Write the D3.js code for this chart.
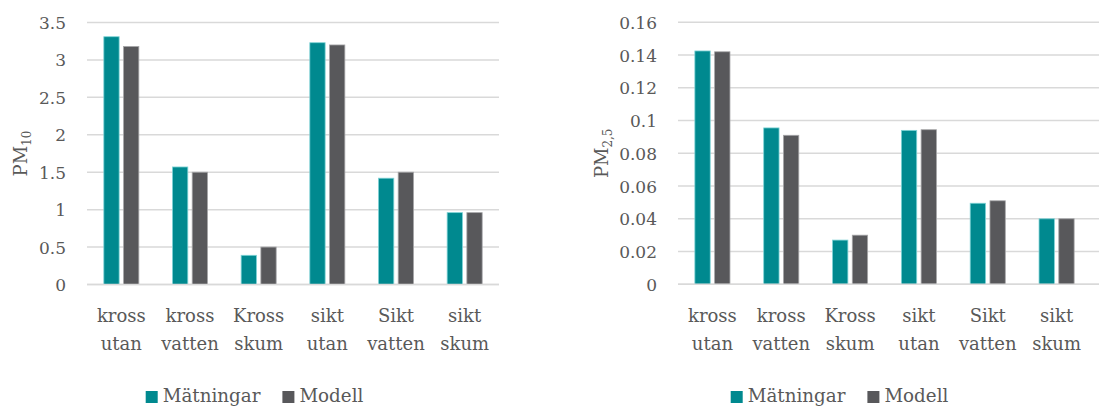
<!DOCTYPE html>
<html>
<head>
<meta charset="utf-8">
<script src="https://cdn.jsdelivr.net/npm/d3@7"></script>
<style>
  html, body { margin: 0; padding: 0; background: #fff; }
  svg { display: block; }
  text { font-family: "DejaVu Serif", "Liberation Serif", serif; fill: #595959; }
</style>
</head>
<body>
<svg id="chart" width="1099" height="407"></svg>
<script>
// ---- Data ----
const categories = [["kross", "utan"], ["kross", "vatten"], ["Kross", "skum"], ["sikt", "utan"], ["Sikt", "vatten"], ["sikt", "skum"]];
const seriesNames = ["Mätningar", "Modell"];
const pm10Matningar = [3.31, 1.57, 0.39, 3.23, 1.42, 0.96];
const pm10Modell    = [3.18, 1.50, 0.50, 3.20, 1.50, 0.96];
const pm25Matningar = [0.1425, 0.0955, 0.027, 0.094, 0.0495, 0.040];
const pm25Modell    = [0.142, 0.091, 0.030, 0.0944, 0.051, 0.040];
const pm10Ticks = [0, 0.5, 1, 1.5, 2, 2.5, 3, 3.5];
const pm25Ticks = [0, 0.02, 0.04, 0.06, 0.08, 0.1, 0.12, 0.14, 0.16];

const colors = ["#00898F", "#58585B"];
const strokeColors = ["#7FD3D6", "#A6A6A8"];
const FONT = '"DejaVu Serif", "Liberation Serif", serif';

const svg = d3.select("#chart");

function drawChart(cfg) {
  const g = svg.append("g");
  const cats = categories.map((c, i) => i);
  const x0 = d3.scaleBand().domain(cats).range([cfg.x0, cfg.x1]).paddingInner(0.49).paddingOuter(0.245);
  const x1 = d3.scaleBand().domain([0, 1]).range([0, x0.bandwidth()]).paddingInner(0.223);
  const y = d3.scaleLinear().domain([0, cfg.max]).range([cfg.yBottom, cfg.yTop]);

  // gridlines
  g.selectAll("line.grid").data(cfg.ticks).enter().append("line")
    .attr("x1", cfg.x0).attr("x2", cfg.gridEnd)
    .attr("y1", d => y(d)).attr("y2", d => y(d))
    .attr("stroke", "#D9D9D9").attr("stroke-width", 1.5);

  // y axis labels via d3 axis
  const axis = d3.axisLeft(y).tickValues(cfg.ticks).tickSize(0).tickPadding(0)
    .tickFormat(d => cfg.fmt(d));
  const ag = g.append("g").attr("transform", `translate(${cfg.x0 - 21},0)`).call(axis);
  ag.attr("font-family", null).attr("font-size", null);
  ag.select(".domain").remove();
  ag.selectAll("text")
    .style("font-family", FONT)
    .style("font-size", "17px")
    .style("fill", "#595959")
    .attr("dy", "0.35em");

  // bars
  const series = [cfg.a, cfg.b];
  series.forEach((vals, si) => {
    g.selectAll(null).data(vals).enter().append("rect")
      .attr("x", (d, i) => x0(i) + x1(si))
      .attr("width", x1.bandwidth())
      .attr("y", d => y(d))
      .attr("height", d => y(0) - y(d))
      .attr("fill", colors[si])
      .attr("stroke", strokeColors[si])
      .attr("stroke-width", 0.8);
  });

  // redraw baseline over bars
  g.append("line").attr("x1", cfg.x0).attr("x2", cfg.gridEnd)
    .attr("y1", y(0)).attr("y2", y(0))
    .attr("stroke", "#D9D9D9").attr("stroke-width", 1.5);

  // category labels
  categories.forEach((c, i) => {
    const cx = x0(i) + x0.bandwidth() / 2;
    const t = g.append("text").attr("text-anchor", "middle").style("font-family", FONT).style("font-size", "18px");
    t.append("tspan").attr("x", cx).attr("y", 322).text(c[0]);
    t.append("tspan").attr("x", cx).attr("y", 350).text(c[1]);
  });

  // y title
  const yt = g.append("text")
    .attr("transform", `translate(${cfg.titleX},${(cfg.yTop + cfg.yBottom) / 2}) rotate(-90)`)
    .attr("text-anchor", "middle").attr("dy", "0.35em")
    .style("font-family", FONT)
    .style("font-size", "18px");
  yt.append("tspan").text("PM");
  yt.append("tspan").attr("dy", "4").style("font-size", "12px").text(cfg.sub);

  // legend
  const lg = g.append("g");
  let lx = cfg.legendX;
  seriesNames.forEach((name, si) => {
    lg.append("rect").attr("x", lx).attr("y", 391).attr("width", 12).attr("height", 12).attr("fill", colors[si]);
    const tt = lg.append("text").attr("x", lx + 17).attr("y", 402).style("font-family", FONT).style("font-size", "18.3px").text(name);
    lx += 17 + tt.node().getComputedTextLength() + 22;
  });
}

drawChart({ x0: 87, x1: 499, gridEnd: 499, yTop: 22.5, yBottom: 284.5, max: 3.5, ticks: pm10Ticks,
  fmt: d => String(d), a: pm10Matningar, b: pm10Modell, titleX: 21, sub: "10", legendX: 145.7 });
drawChart({ x0: 678, x1: 1091, gridEnd: 1099, yTop: 22.3, yBottom: 284.3, max: 0.16, ticks: pm25Ticks,
  fmt: d => String(+d.toFixed(2)), a: pm25Matningar, b: pm25Modell, titleX: 602, sub: "2,5", legendX: 730.7 });
</script>
</body>
</html>
